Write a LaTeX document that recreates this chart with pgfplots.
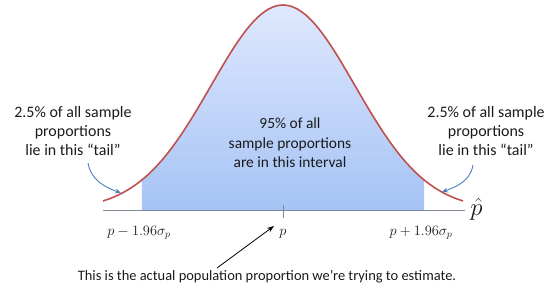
\documentclass[border=0pt]{standalone}
\usepackage{pgfplots}
\pgfplotsset{compat=1.18}
\usepackage{fontspec}
\setmainfont{Carlito}
\usetikzlibrary{arrows.meta}
\definecolor{curvered}{HTML}{C0504D}
\definecolor{bluetop}{HTML}{DFE8FD}
\definecolor{bluebot}{HTML}{A5C3F5}
\definecolor{axisgray}{HTML}{7F8A99}
\definecolor{arrowblue}{HTML}{4A7EBB}
\definecolor{txt}{HTML}{1A1A1A}
\tikzset{lbl/.style={font=\fontsize{14.5}{16.5}\selectfont, text=txt, inner sep=1bp},
  big/.style={font=\fontsize{16}{19}\selectfont, text=txt, inner sep=1bp}}
\pgfplotstableread{
x y
-1.96 0.14644
-1.9 0.16447
-1.8 0.19790
-1.7 0.23575
-1.6 0.27804
-1.5 0.32465
-1.4 0.37531
-1.3 0.42956
-1.2 0.48675
-1.1 0.54607
-1.0 0.60653
-0.9 0.66698
-0.8 0.72615
-0.7 0.78270
-0.6 0.83527
-0.5 0.88250
-0.4 0.92312
-0.3 0.95600
-0.2 0.98020
-0.1 0.99501
0.0 1.00000
0.1 0.99501
0.2 0.98020
0.3 0.95600
0.4 0.92312
0.5 0.88250
0.6 0.83527
0.7 0.78270
0.8 0.72615
0.9 0.66698
1.0 0.60653
1.1 0.54607
1.2 0.48675
1.3 0.42956
1.4 0.37531
1.5 0.32465
1.6 0.27804
1.7 0.23575
1.8 0.19790
1.9 0.16447
1.96 0.14644
}\inner
\pgfplotstableread{
x y
-2.5 0.04394
-2.4 0.05613
-2.3 0.07100
-2.2 0.08892
-2.1 0.11025
-2.0 0.13534
-1.9 0.16447
-1.8 0.19790
-1.7 0.23575
-1.6 0.27804
-1.5 0.32465
-1.4 0.37531
-1.3 0.42956
-1.2 0.48675
-1.1 0.54607
-1.0 0.60653
-0.9 0.66698
-0.8 0.72615
-0.7 0.78270
-0.6 0.83527
-0.5 0.88250
-0.4 0.92312
-0.3 0.95600
-0.2 0.98020
-0.1 0.99501
0.0 1.00000
0.1 0.99501
0.2 0.98020
0.3 0.95600
0.4 0.92312
0.5 0.88250
0.6 0.83527
0.7 0.78270
0.8 0.72615
0.9 0.66698
1.0 0.60653
1.1 0.54607
1.2 0.48675
1.3 0.42956
1.4 0.37531
1.5 0.32465
1.6 0.27804
1.7 0.23575
1.8 0.19790
1.9 0.16447
2.0 0.13534
2.1 0.11025
2.2 0.08892
2.3 0.07100
2.4 0.05613
2.5 0.04394
}\full
\begin{document}
\begin{tikzpicture}
\begin{axis}[
  width=560bp, height=300bp, scale only axis,
  xmin=-3.9306, xmax=3.8472, ymin=-0.43902, ymax=1.02439,
  axis lines=none, clip=false
]
\path (rel axis cs:0,0) rectangle (rel axis cs:1,1);
\addplot[draw=none, top color=bluetop, bottom color=bluebot] table {\inner} \closedcycle;
\draw[axisgray, line width=0.9bp] (axis cs:-2.5,0) -- (axis cs:2.53,0);
\draw[axisgray, line width=0.9bp] (axis cs:0,0.0244) -- (axis cs:0,-0.039);
\addplot[curvered, line width=1.6bp, smooth] table {\full};
\node[lbl, inner sep=0bp, anchor=west] at (axis cs:2.6,0.005) {\fontsize{28}{30}\selectfont $\hat{p}$};
\node[lbl] at (axis cs:-2.0,-0.11) {\fontsize{14}{16}\selectfont $p-1.96\sigma_p$};
\node[lbl] at (axis cs:1.917,-0.11) {\fontsize{14}{16}\selectfont $p+1.96\sigma_p$};
\node[lbl] at (axis cs:0,-0.115) {\fontsize{14}{16}\selectfont $p$};
\node[big, align=center] at (axis cs:-2.917,0.385) {2.5\% of all sample\\proportions\\lie in this “tail”};
\node[big, align=center] at (axis cs:2.82,0.385) {2.5\% of all sample\\proportions\\lie in this “tail”};
\node[big, align=center, font=\fontsize{15.5}{19.5}\selectfont] at (axis cs:0.097,0.327) {95\% of all\\sample proportions\\are in this interval};
\node[lbl] at (axis cs:-0.222,-0.327) {This is the actual population proportion we’re trying to estimate.};
\draw[-{Stealth[length=7bp,width=5bp]}, line width=0.8bp, black] (axis cs:-0.917,-0.283) -- (axis cs:-0.125,-0.078);
\draw[-{Stealth[length=6bp,width=5bp]}, line width=0.9bp, arrowblue] (axis cs:-2.708,0.229) to[out=-80,in=160] (axis cs:-2.25,0.083);
\draw[-{Stealth[length=6bp,width=5bp]}, line width=0.9bp, arrowblue] (axis cs:2.639,0.2195) to[out=-100,in=20] (axis cs:2.208,0.0878);
\end{axis}
\end{tikzpicture}
\end{document}
